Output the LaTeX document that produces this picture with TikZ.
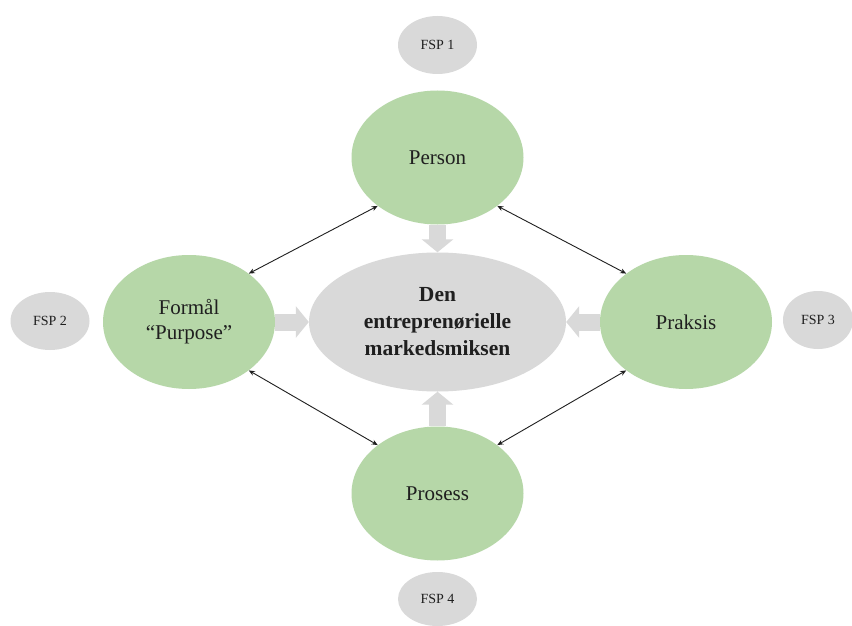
\documentclass[tikz,border=0pt]{standalone}
\usepackage{fontspec}
\setmainfont{Liberation Serif}
\usetikzlibrary{arrows.meta,shapes.geometric}
\definecolor{lgreen}{HTML}{B6D7A8}
\definecolor{lgray}{HTML}{D9D9D9}
\definecolor{ink}{HTML}{1F1F1F}
\begin{document}
\begin{tikzpicture}[x=1pt,y=-1pt,
  mainnode/.style={ellipse, fill=lgreen, minimum width=172, minimum height=134, inner sep=0pt,
    text=ink, align=center, font=\fontsize{21}{25}\selectfont},
  hubnode/.style={ellipse, fill=lgray, minimum width=257, minimum height=139, inner sep=0pt,
    text=ink, align=center, font=\bfseries\fontsize{21.5}{27}\selectfont},
  fspnode/.style={ellipse, fill=lgray, minimum width=79, minimum height=58, inner sep=0pt,
    text=ink, font=\fontsize{14}{16}\selectfont},
  blockarrow/.style={draw=lgray, line width=17pt, -{Triangle[width=31pt,length=13pt]}},
  linkarrow/.style={draw=ink, line width=0.9pt,
    {Stealth[length=6pt,width=5pt]}-{Stealth[length=6pt,width=5pt]}}
]
\useasboundingbox[fill=white] (0,0) rectangle (852,626);

\node[hubnode] (hub) at (437.5,322) {Den\\entreprenørielle\\markedsmiksen};
\node[mainnode] (person) at (437.5,157.5) {Person};
\node[mainnode] (formal) at (189,322) {Formål\\“Purpose”};
\node[mainnode] (praksis) at (686,322) {Praksis};
\node[mainnode] (prosess) at (437.5,493.5) {Prosess};

\node[fspnode] (fsp1) at (437.5,45) {FSP 1};
\node[fspnode] (fsp2) at (50,321) {FSP 2};
\node[fspnode, minimum width=70] (fsp3) at (818,320) {FSP 3};
\node[fspnode, minimum height=54] (fsp4) at (437.5,599) {FSP 4};

\draw[blockarrow] (person) -- (hub);
\draw[blockarrow] (formal) -- (hub);
\draw[blockarrow] (praksis) -- (hub);
\draw[blockarrow] (prosess) -- (hub);

\draw[linkarrow] (formal.39) -- (person.219);
\draw[linkarrow] (person.321) -- (praksis.141);
\draw[linkarrow] (formal.321) -- (prosess.141);
\draw[linkarrow] (prosess.39) -- (praksis.219);
\end{tikzpicture}
\end{document}
